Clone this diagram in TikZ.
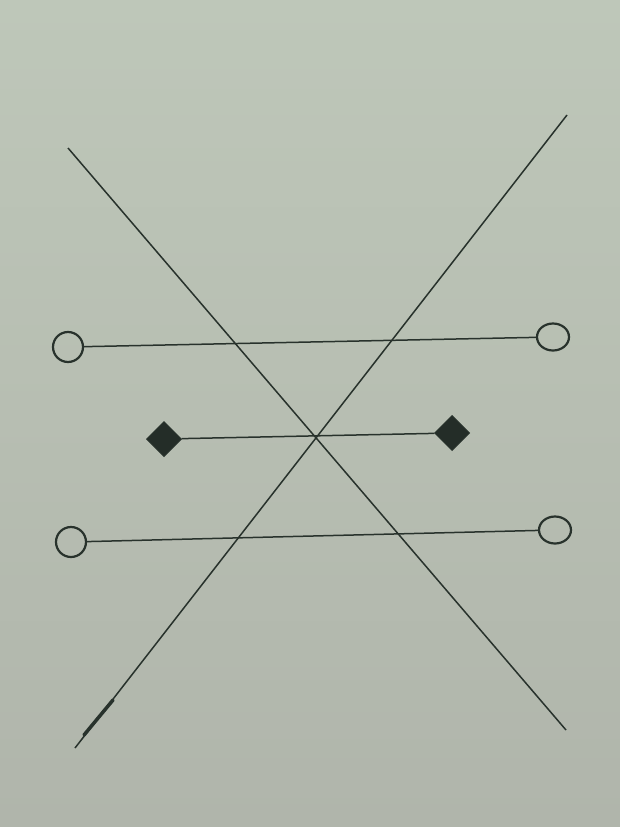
\documentclass[tikz,border=0pt]{standalone}
\usetikzlibrary{shapes.geometric}
\definecolor{paperTop}{RGB}{190,199,185}
\definecolor{paperBot}{RGB}{176,181,171}
\definecolor{ink}{RGB}{40,50,44}
\begin{document}
\begin{tikzpicture}[x=1pt,y=-1pt,
  stroke/.style={draw=ink,line width=1.5pt},
  ring/.style={circle,draw=ink,line width=2.2pt,minimum size=30pt,inner sep=0pt},
  ovalring/.style={ellipse,draw=ink,line width=2.2pt,minimum width=32pt,minimum height=27pt,inner sep=0pt},
  gem/.style={diamond,draw=ink,fill=ink!90!black,line width=1pt,minimum size=35pt,inner sep=0pt}]
\useasboundingbox (0,0) rectangle (620,827);
\shade[top color=paperTop,bottom color=paperBot] (0,0) rectangle (620,827);
% crossing lines
\coordinate (a1) at (68,148);
\coordinate (a2) at (566,730);
\coordinate (b1) at (567,115);
\coordinate (b2) at (75,748);
\draw[stroke] (a1) -- (a2);
\draw[stroke] (b1) -- (b2);
\coordinate (t1) at (84,735);
\coordinate (t2) at (113,700);
\draw[draw=ink,line width=3.5pt,line cap=round] (t1) -- (t2);
% top row
\node[ring] (tl) at (68,347) {};
\node[ovalring] (tr) at (553,337) {};
\draw[stroke] (tl) -- (tr);
% middle row
\node[gem] (ml) at (164,439) {};
\node[gem] (mr) at (452,433) {};
\draw[stroke] (ml) -- (mr);
% bottom row
\node[ring] (bl) at (71,542) {};
\node[ovalring] (br) at (555,530) {};
\draw[stroke] (bl) -- (br);
\end{tikzpicture}
\end{document}
